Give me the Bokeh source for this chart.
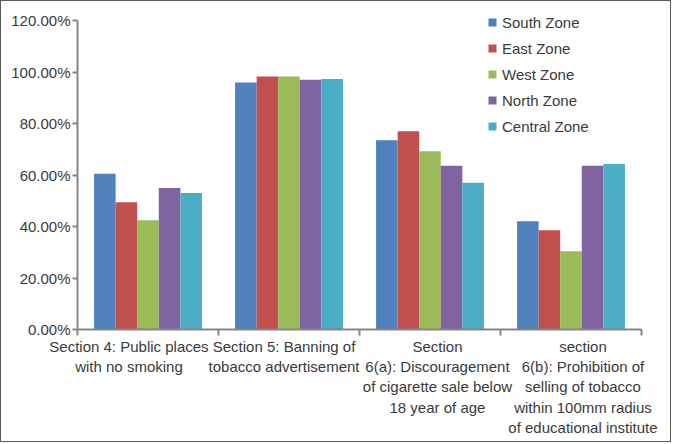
from bokeh.plotting import figure
from bokeh.models import ColumnDataSource, FixedTicker, NumeralTickFormatter, Range1d, Legend, LegendItem
from bokeh.embed import file_html
from bokeh.resources import INLINE

categories = [
    "Section 4: Public places\nwith no smoking",
    "Section 5: Banning of\ntobacco advertisement",
    "Section\n6(a): Discouragement\nof cigarette sale below\n18 year of age",
    "section\n6(b): Prohibition of\nselling of tobacco\nwithin 100mm radius\nof educational institute",
]
zones = ["South Zone", "East Zone", "West Zone", "North Zone", "Central Zone"]
south = [0.605, 0.959, 0.735, 0.420]
east = [0.494, 0.983, 0.770, 0.385]
west = [0.424, 0.983, 0.692, 0.304]
north = [0.550, 0.970, 0.636, 0.636]
central = [0.530, 0.973, 0.570, 0.643]
colors = ["#4F81BD", "#C0504D", "#9BBB59", "#8064A2", "#4BACC6"]
series = [south, east, west, north, central]

FONT = "Liberation Sans"
TXT = "#3a3a3a"
AX = "#868686"

# frame top sits 10px above the 120% tick; 0..1.2 spans 309px
y_end = 1.2 * (319 / 309)
p = figure(width=671, height=442, output_backend="svg", toolbar_location=None,
           x_range=Range1d(0, 4), y_range=Range1d(0, y_end),
           min_border_left=76, min_border_right=31, min_border_top=9, min_border_bottom=114)
p.styles = {"border": "1px solid #5a5a5a"}
p.outline_line_color = None
p.xgrid.grid_line_color = None
p.ygrid.grid_line_color = None

bw = 0.153
centers = [i + 0.5 for i in range(len(categories))]
items = []
for k, (vals, col, name) in enumerate(zip(series, colors, zones)):
    off = (k - 2) * bw
    src = ColumnDataSource(dict(x=[c + off for c in centers], top=vals))
    r = p.vbar(x="x", top="top", width=bw, bottom=0, source=src, fill_color=col, line_color=None)
    items.append(LegendItem(label=name, renderers=[r]))

legend = Legend(items=items, location=(410, 193), orientation="vertical")
legend.glyph_width = 10
legend.glyph_height = 10
legend.label_standoff = 5
legend.label_height = 20
legend.spacing = 6
legend.padding = 0
legend.margin = 0
legend.border_line_color = None
legend.background_fill_alpha = 0
legend.label_text_font = FONT
legend.label_text_font_size = "15px"
legend.label_text_color = TXT
p.add_layout(legend)

# y axis
p.yaxis.ticker = FixedTicker(ticks=[0, 0.2, 0.4, 0.6, 0.8, 1.0, 1.2])
p.yaxis.bounds = (0, 1.2)
p.yaxis.formatter = NumeralTickFormatter(format="0.00%")
p.yaxis.axis_line_color = AX
p.yaxis.axis_line_width = 2
p.yaxis.major_tick_line_color = AX
p.yaxis.major_tick_line_width = 2
p.yaxis.major_tick_in = 0
p.yaxis.major_tick_out = 5
p.yaxis.minor_tick_line_color = None
p.yaxis.major_label_text_font = FONT
p.yaxis.major_label_text_font_size = "15px"
p.yaxis.major_label_text_color = TXT
p.yaxis.major_label_standoff = 2

# x axis: labels shifted as in the original (avoiding overlaps), boundary ticks as minor ticks
label_pos = [0.365, 1.465, 2.553, 3.585]
p.xaxis.ticker = FixedTicker(ticks=label_pos, minor_ticks=[0, 1, 2, 3, 4])
p.xaxis.major_label_overrides = {c: lab for c, lab in zip(label_pos, categories)}
p.xaxis.axis_line_color = AX
p.xaxis.axis_line_width = 2
p.xaxis.major_tick_line_color = None
p.xaxis.major_tick_out = 0
p.xaxis.major_tick_in = 0
p.xaxis.minor_tick_line_color = AX
p.xaxis.minor_tick_line_width = 2
p.xaxis.minor_tick_in = 0
p.xaxis.minor_tick_out = 6
p.xaxis.major_label_text_font = FONT
p.xaxis.major_label_text_font_size = "15px"
p.xaxis.major_label_text_color = TXT
p.xaxis.major_label_standoff = 2
p.xaxis.major_label_text_align = "center"

open("out.html", "w").write(file_html(p, INLINE))
